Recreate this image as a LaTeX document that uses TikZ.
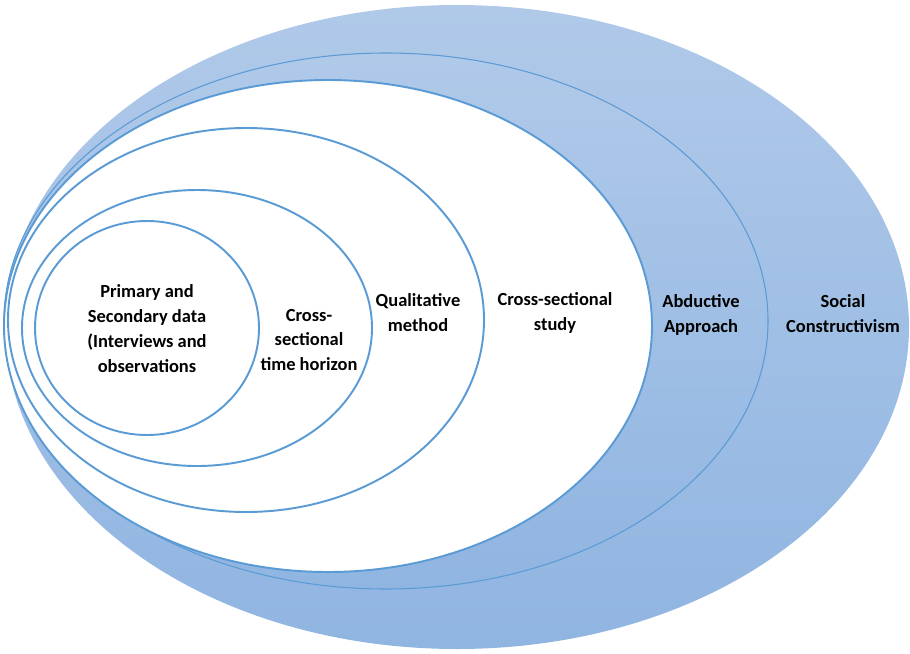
\documentclass[tikz,border=0pt]{standalone}
\usepackage{fontspec}
\setmainfont{Carlito}
\usepackage{tikz}
\usetikzlibrary{positioning}
\definecolor{ringblue}{RGB}{91,155,213}
\definecolor{ringtop}{RGB}{176,201,233}
\definecolor{ringbottom}{RGB}{144,181,225}
\tikzstyle{filled ring} = [top color=ringtop, bottom color=ringbottom]
\tikzstyle{thin ring} = [draw=ringblue, line width=0.6pt]
\tikzstyle{white ring} = [draw=ringblue, line width=1.1pt, fill=white]
\tikzstyle{layertext} = [align=center, inner sep=1pt,
    font=\bfseries\fontsize{10.5}{14.2}\selectfont]

\begin{document}
\begin{tikzpicture}[x=0.02cm, y=-0.02cm]
  \useasboundingbox (0,0) rectangle (910,653);

  % Outer layers, shaded
  \path [filled ring] (457,327) ellipse (452 and 322);
  \path [filled ring, thin ring] (386,321) ellipse (382 and 268);

  % Inner layers, white
  \path [white ring] (328,326) ellipse (324 and 246);
  \path [white ring] (246,320) ellipse (238 and 192);
  \path [white ring] (197,328) ellipse (175 and 138);
  \path [white ring] (147,328) ellipse (112 and 107);

  % Place labels
  \node [layertext] (data) at (147,329)
    {Primary and\\Secondary data\\(Interviews and\\observations};
  \node [layertext] (horizon) at (309,340) {Cross-\\sectional\\time horizon};
  \node [layertext] (method) at (418,313) {Qualitative\\method};
  \node [layertext] (study) at (555,313) {Cross-sectional\\study};
  \node [layertext] (approach) at (701,315) {Abductive\\Approach};
  \node [layertext] (philosophy) at (843,314) {Social\\Constructivism};
\end{tikzpicture}
\end{document}
